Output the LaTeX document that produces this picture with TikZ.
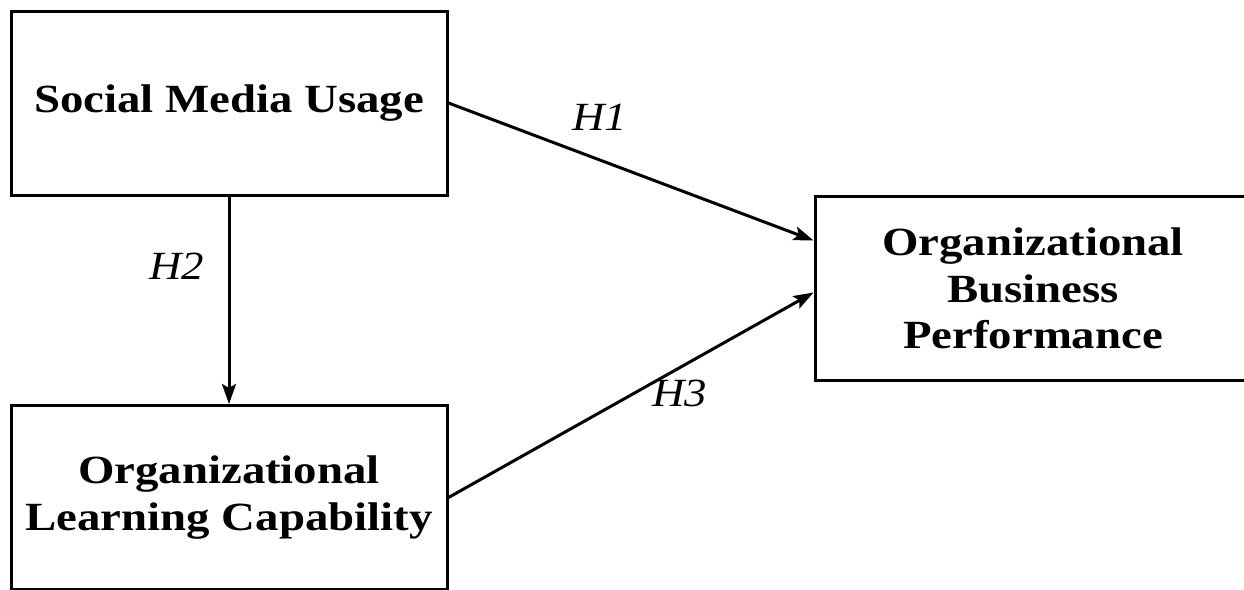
\documentclass[tikz,border=0pt]{standalone}
\usepackage{fontspec}
\setmainfont{Liberation Serif}
\newfontfamily\boxfont[FakeStretch=1.17]{Liberation Serif}
\newfontfamily\labfont[FakeStretch=1.12]{Liberation Serif}
\usetikzlibrary{arrows.meta,calc}
\begin{document}
\begin{tikzpicture}[x=1pt,y=-1pt,
  box/.style={draw=black,line width=3pt,fill=white,rectangle,minimum width=436pt,minimum height=184pt,inner sep=0pt,align=center,font=\boxfont\fontsize{40}{46.5}\selectfont\bfseries},
  conn/.style={line width=3pt,-{Stealth[length=20pt,width=14pt,inset=4pt]}},
  hlab/.style={font=\labfont\fontsize{40}{44}\selectfont\itshape,inner sep=0pt}]
\clip (0,0) rectangle (1244,589);
\useasboundingbox (0,0) rectangle (1244,589);
\node[box] (smu) at (229,103) {Social Media Usage};
\node[box] (olc) at (229,497.5) {Organizational\\Learning Capability};
\node[box] (obp) at (1033,288.5) {Organizational\\Business\\Performance};
\draw[conn] (smu.east) -- ($(obp.west)+(0,-48)$);
\draw[conn] (smu.south) -- (olc.north);
\draw[conn] (olc.east) -- ($(obp.west)+(0,4)$);
\node[hlab] (h1) at (600,117) {H1};
\node[hlab] (h2) at (177,266) {H2};
\node[hlab] (h3) at (680,393) {H3};
\end{tikzpicture}
\end{document}
